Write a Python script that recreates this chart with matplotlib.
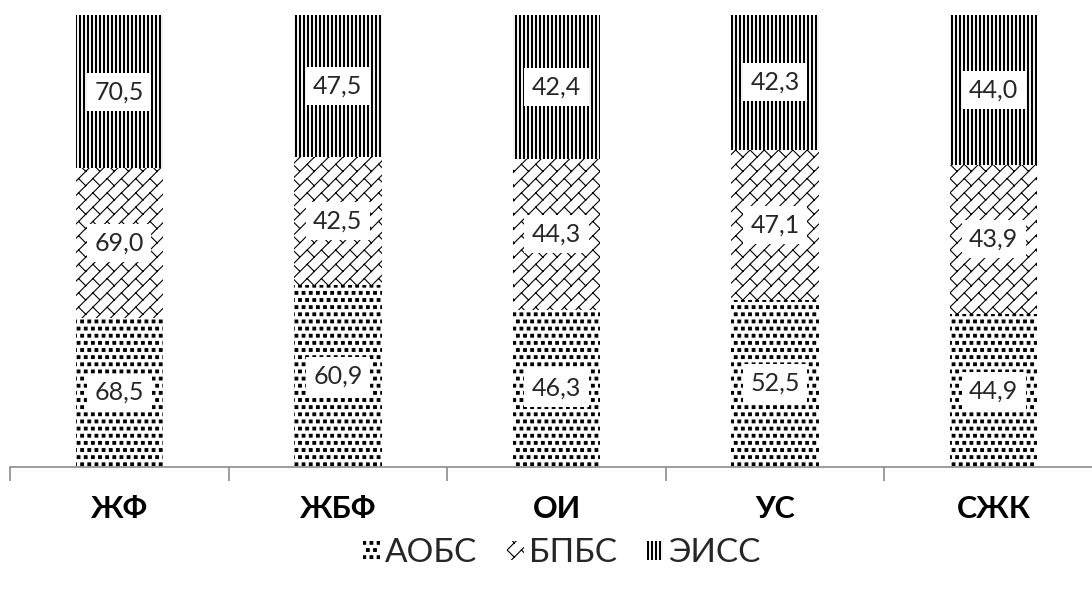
import numpy as np
import matplotlib
matplotlib.use("Agg")
import matplotlib.pyplot as plt
import matplotlib.hatch as mhatch
from matplotlib.path import Path
from matplotlib.patches import Patch

categories = ["ЖФ", "ЖБФ", "ОИ", "УС", "СЖК"]
series_names = ["АОБС", "БПБС", "ЭИСС"]
aobs = [68.5, 60.9, 46.3, 52.5, 44.9]
bpbs = [69.0, 42.5, 44.3, 47.1, 43.9]
eiss = [70.5, 47.5, 42.4, 42.3, 44.0]


# --- fill patterns -----------------------------------------------------------
class SquareDots(mhatch.Shapes):
    """Staggered grid of small filled squares ('*')."""
    filled = True
    size = 0.19

    def __init__(self, hatch, density):
        self.num_rows = hatch.count("*") * 14
        self.shape_vertices = np.array(
            [[-1, -1], [1, -1], [1, 1], [-1, 1], [-1, -1]], float)
        self.shape_codes = np.array(
            [Path.MOVETO, Path.LINETO, Path.LINETO, Path.LINETO, Path.CLOSEPOLY],
            dtype=Path.code_type)
        super().__init__(hatch, density)


class DiagonalBrick(mhatch.HatchPatternBase):
    """Upward diagonals joined by short downward strokes ('O')."""

    def __init__(self, hatch, density):
        self.n = hatch.count("O") * 7
        if self.n:
            self.ks = range(-self.n, self.n + 1)
            self.num_vertices = 4 * len(self.ks) * (self.n + 1)
        else:
            self.num_vertices = 0

    def set_vertices_and_codes(self, vertices, codes):
        s = 1.0 / self.n
        verts, cds = [], []
        for k in self.ks:
            c = k * s
            for i in range(self.n + 1):
                x0 = i * s
                # piece of the upward diagonal
                verts += [(x0, x0 + c), (x0 + s, x0 + s + c)]
                # short downward joint to the next diagonal
                t = x0 + 0.5 * s
                verts += [(t, t + c), (t + 0.5 * s, t + c - 0.5 * s)]
                cds += [Path.MOVETO, Path.LINETO, Path.MOVETO, Path.LINETO]
        vertices[:] = np.array(verts)
        codes[:] = np.array(cds, dtype=Path.code_type)


class VerticalBars(mhatch.HatchPatternBase):
    """Dense vertical bars ('|')."""

    def __init__(self, hatch, density):
        self.n = hatch.count("|") * 25
        self.num_vertices = 5 * (self.n + 1) if self.n else 0

    def set_vertices_and_codes(self, vertices, codes):
        w = 0.005
        verts, cds = [], []
        for i in range(self.n + 1):
            x = i / self.n
            verts += [(x - w, -0.1), (x + w, -0.1), (x + w, 1.1),
                      (x - w, 1.1), (x - w, -0.1)]
            cds += [Path.MOVETO, Path.LINETO, Path.LINETO, Path.LINETO,
                    Path.CLOSEPOLY]
        vertices[:] = np.array(verts)
        codes[:] = np.array(cds, dtype=Path.code_type)


_replace = {mhatch.Stars: SquareDots, mhatch.LargeCircles: DiagonalBrick,
            mhatch.VerticalHatch: VerticalBars}
mhatch._hatch_types[:] = [_replace.get(t, t) for t in mhatch._hatch_types]

hatches = ["*", "O", "|"]

plt.rcParams["font.family"] = ["Lato", "DejaVu Sans"]
plt.rcParams["hatch.linewidth"] = 0.8
plt.rcParams["hatch.color"] = "black"

fig = plt.figure(figsize=(10.92, 5.90), dpi=100)
ax = fig.add_axes([10 / 1092, 123 / 590, 1093 / 1092, 452 / 590])

x = np.arange(len(categories))
vals = np.array([aobs, bpbs, eiss], dtype=float)
shares = vals / vals.sum(axis=0)

bottom = np.zeros(len(categories))
for name, share, raw, h in zip(series_names, shares, vals, hatches):
    ax.bar(x, share, 0.4, bottom=bottom, color="white",
           edgecolor="black", linewidth=0, hatch=h, label=name)
    for xi, b, s, v in zip(x, bottom, share, raw):
        ax.text(xi, b + s / 2, f"{v:.1f}".replace(".", ","),
                ha="center", va="center", fontsize=18, color="#262626",
                bbox=dict(boxstyle="square,pad=0.3", fc="white", ec="none"))
    bottom = bottom + share

ax.set_xlim(-0.5, len(categories) - 0.5)
ax.set_ylim(0, 1)
ax.set_yticks([])
for side in ("left", "right", "top"):
    ax.spines[side].set_visible(False)
ax.spines["bottom"].set_color("#8c8c8c")
ax.spines["bottom"].set_linewidth(1.2)

ax.set_xticks(x)
ax.set_xticklabels(categories, fontsize=22, fontweight="bold")
ax.tick_params(axis="x", which="major", length=0, pad=20)
ax.set_xticks(np.arange(len(categories) + 1) - 0.5, minor=True)
ax.tick_params(axis="x", which="minor", length=10, width=1.2, color="#8c8c8c")

handles = [Patch(facecolor="white", edgecolor="black", linewidth=0, hatch=h, label=n)
           for n, h in zip(series_names, hatches)]
fig.legend(handles=handles, loc="center", bbox_to_anchor=(562 / 1092, 1 - 553 / 590),
           ncol=3, frameon=False, fontsize=24, handlelength=0.5, handleheight=0.5,
           handletextpad=0.15, columnspacing=0.9, labelcolor="#262626")

fig.savefig("out.png", dpi=100)
